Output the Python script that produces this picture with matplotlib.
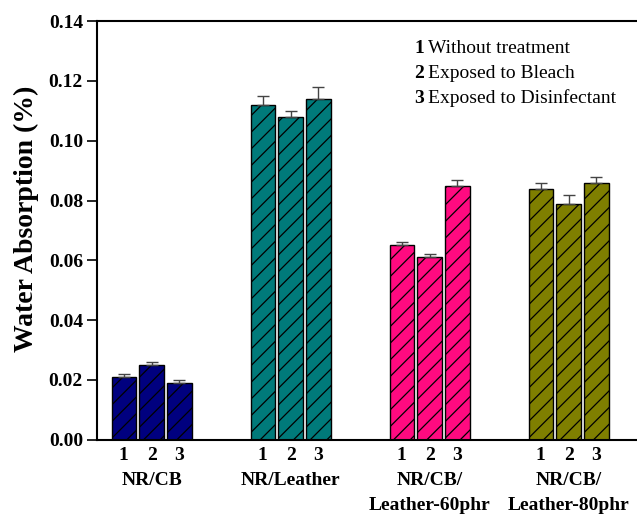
import numpy as np
import matplotlib.pyplot as plt

plt.rcParams['font.family'] = 'Liberation Serif'
plt.rcParams['hatch.linewidth'] = 0.9

groups = ['NR/CB', 'NR/Leather', 'NR/CB/\nLeather-60phr', 'NR/CB/\nLeather-80phr']
colors = ['#00007f', '#007a7a', '#ff0a80', '#7f7f00']
treatments = ['Without treatment', 'Exposed to Bleach', 'Exposed to Disinfectant']
values = [[0.021, 0.025, 0.019],
          [0.112, 0.108, 0.114],
          [0.065, 0.061, 0.085],
          [0.084, 0.079, 0.086]]
errors = [[0.001, 0.001, 0.001],
          [0.003, 0.002, 0.004],
          [0.001, 0.001, 0.002],
          [0.002, 0.003, 0.002]]

fig = plt.figure(figsize=(6.37, 5.15), dpi=100)
ax = fig.add_axes([0.152, 0.146, 0.86, 0.813])

offsets = np.array([-0.2, 0.0, 0.2])
ticks, ticklabels = [], []
for i in range(len(groups)):
    x = i + offsets
    ax.bar(x, values[i], width=0.175, color=colors[i], edgecolor='black',
           linewidth=1.0, hatch='//', zorder=2)
    ax.errorbar(x, values[i], yerr=[[0, 0, 0], errors[i]], fmt='none',
                ecolor='#444444', elinewidth=1, capsize=4, capthick=1, zorder=3)
    ticks += list(x)
    ticklabels += ['1', '2', '3']
    ax.text(i, -0.077, groups[i], transform=ax.get_xaxis_transform(),
            ha='center', va='top', fontsize=14, fontweight='bold',
            linespacing=1.6)

ax.set_xlim(-0.394, 3.547)
ax.set_ylim(0, 0.14)
ax.set_yticks(np.arange(0, 0.141, 0.02))
ax.set_yticklabels([f'{v:.2f}' for v in np.arange(0, 0.141, 0.02)])
ax.set_xticks(ticks)
ax.set_xticklabels(ticklabels)
ax.tick_params(axis='x', length=0, pad=5, labelsize=14)
ax.tick_params(axis='y', direction='out', length=7, width=1.2, pad=3, labelsize=14)
for lab in ax.get_xticklabels() + ax.get_yticklabels():
    lab.set_fontweight('bold')
for s in ['left', 'bottom', 'top']:
    ax.spines[s].set_linewidth(1.5)
ax.spines['right'].set_visible(False)
ax.set_ylabel('Water Absorption (%)', fontsize=20, fontweight='bold')
ax.yaxis.set_label_coords(-0.105, 0.527)

for k, t in enumerate(treatments):
    y = 0.9356 - k * 0.0597
    ax.text(0.58, y, str(k + 1), transform=ax.transAxes, fontsize=14,
            fontweight='bold', va='center')
    ax.text(0.604, y, t, transform=ax.transAxes, fontsize=14, va='center')

fig.savefig('out.png', dpi=100)
